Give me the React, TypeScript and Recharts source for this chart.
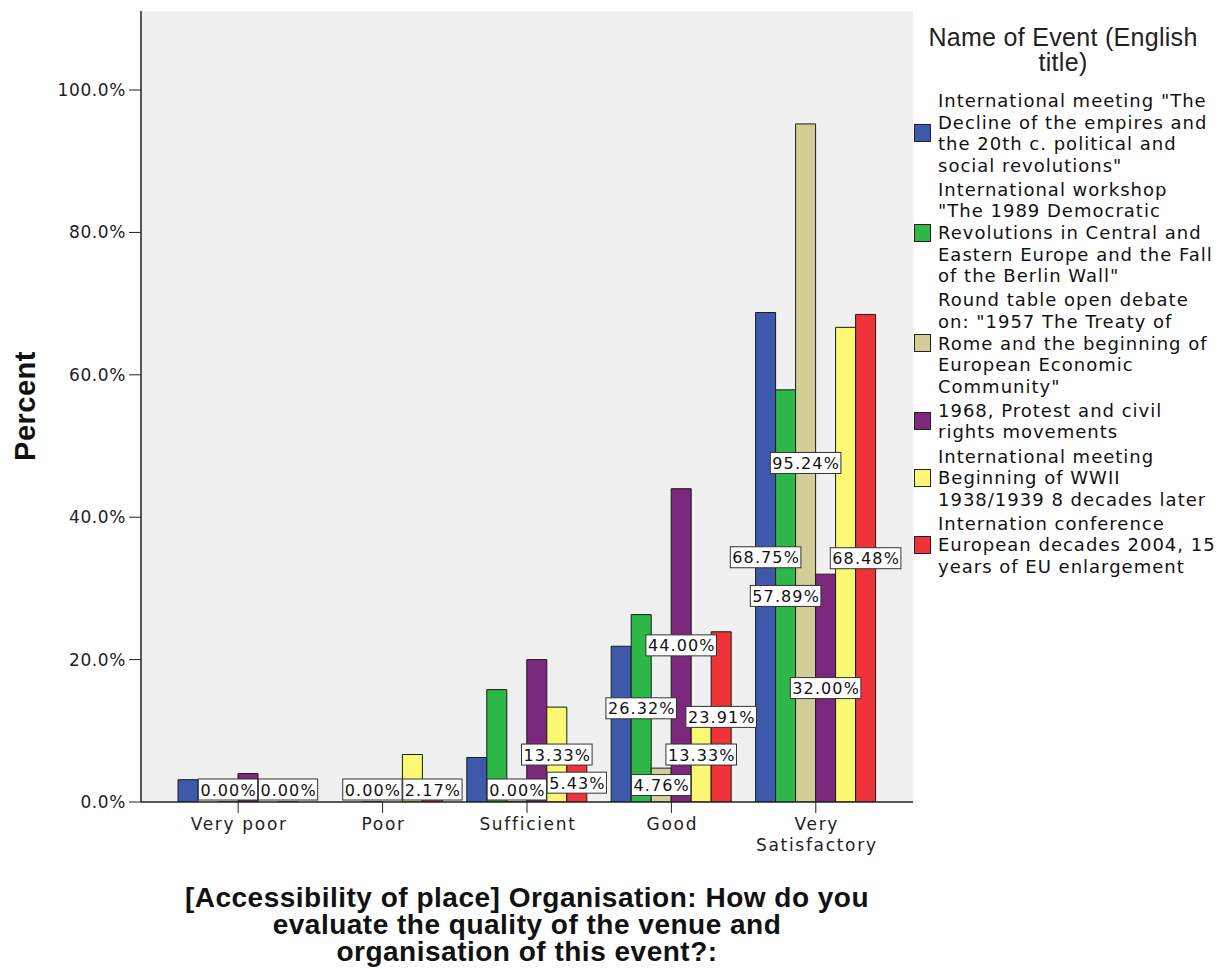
import { BarChart, Bar, XAxis, YAxis, CartesianGrid, LabelList } from 'recharts';

const categories = ['Very poor', 'Poor', 'Sufficient', 'Good', 'Very Satisfactory'];

// percent per rating, one array per event
const declineEmpires = [3.13, 0, 6.25, 21.88, 68.75];
const revolutions1989 = [0, 0, 15.79, 26.32, 57.89];
const treatyOfRome = [0, 0, 0, 4.76, 95.24];
const protest1968 = [4.0, 0, 20.0, 44.0, 32.0];
const beginningWWII = [0, 6.67, 13.33, 13.33, 66.67];
const euEnlargement = [0, 2.17, 5.43, 23.91, 68.48];

// which data labels survive (SPSS hides overlapping ones)
const declineShown = [false, false, false, false, true];
const revolutionsShown = [false, false, false, true, true];
const treatyShown = [true, true, true, true, true];
const protestShown = [false, false, false, true, true];
const wwiiShown = [false, false, true, true, false];
const euShown = [true, true, true, true, true];

const yTicks = [0, 20, 40, 60, 80, 100];

const seriesNames = [
  'International meeting "The\nDecline of the empires and\nthe 20th c. political and\nsocial revolutions"',
  'International workshop\n"The 1989 Democratic\nRevolutions in Central and\nEastern Europe and the Fall\nof the Berlin Wall"',
  'Round table open debate\non: "1957 The Treaty of\nRome and the beginning of\nEuropean Economic\nCommunity"',
  '1968, Protest and civil\nrights movements',
  'International meeting\nBeginning of WWII\n1938/1939 8 decades later',
  'Internation conference\nEuropean decades 2004, 15\nyears of EU enlargement',
];

const COLORS = ['#3e58ac', '#2eb848', '#d3ce97', '#7c287d', '#fbf873', '#ef3338'];

const series = [
  { key: 's0', values: declineEmpires, shown: declineShown },
  { key: 's1', values: revolutions1989, shown: revolutionsShown },
  { key: 's2', values: treatyOfRome, shown: treatyShown },
  { key: 's3', values: protest1968, shown: protestShown },
  { key: 's4', values: beginningWWII, shown: wwiiShown },
  { key: 's5', values: euEnlargement, shown: euShown },
];

const data = categories.map((name, i) => {
  const row: Record<string, any> = { name };
  series.forEach((s) => {
    row[s.key] = s.values[i];
    row[s.key + '_lbl'] = s.shown[i] ? s.values[i].toFixed(2) + '%' : null;
  });
  return row;
});

const FONT = '"DejaVu Sans", Verdana, sans-serif';
const LABEL_SIZE = 16;
const LABEL_SPACING = 1.1;

// rough DejaVu Sans advance widths
function textWidth(s: string, size: number, spacing: number) {
  let w = 0;
  for (const ch of s) {
    if (ch === '.') w += 0.318;
    else if (ch === '%') w += 0.95;
    else w += 0.636;
  }
  return w * size + spacing * s.length;
}

function BoxLabel(props: any) {
  const { x, y, width, height, value } = props;
  if (!value) return null;
  const txt = String(value);
  const w = textWidth(txt, LABEL_SIZE, LABEL_SPACING) + 3;
  const h = 21;
  const cx = x + width / 2;
  const base = y + height;
  const cy = Math.min(y + height / 2, base - h / 2 - 2);
  return (
    <g>
      <rect x={cx - w / 2} y={cy - h / 2} width={w} height={h} fill="#fff" stroke="#333" strokeWidth={1} />
      <text
        x={cx + LABEL_SPACING / 2}
        y={cy + 6}
        textAnchor="middle"
        fontFamily={FONT}
        fontSize={LABEL_SIZE}
        letterSpacing={LABEL_SPACING}
        fill="#111"
      >
        {txt}
      </text>
    </g>
  );
}

function CategoryTick({ x, y, payload }: any) {
  const label: string = payload.value;
  const lines = label.length > 12 ? label.split(' ') : [label];
  return (
    <text x={x} y={y} textAnchor="middle" fontFamily={FONT} fontSize={17} letterSpacing={1.7} fill="#222">
      {lines.map((l, i) => (
        <tspan key={i} x={x + 1} dy={i === 0 ? 17 : 21}>
          {l}
        </tspan>
      ))}
    </text>
  );
}

function PercentTick({ x, y, payload }: any) {
  return (
    <text x={x} y={y + 6} textAnchor="end" fontFamily={FONT} fontSize={17} letterSpacing={0.6} fill="#222">
      {payload.value.toFixed(1) + '%'}
    </text>
  );
}

export default function App() {
  return (
    <div style={{ position: 'absolute', left: 0, top: 0, width: 1222, height: 969, background: '#fff' }}>
      <BarChart
        width={1222}
        height={969}
        data={data}
        margin={{ top: 11, right: 309, bottom: 107, left: 81 }}
        barCategoryGap={12}
        barGap={0}
      >
        <CartesianGrid horizontal={false} vertical={false} fill="#f0f0f0" />
        <XAxis
          dataKey="name"
          height={60}
          padding={{ left: 25, right: 25 }}
          tickSize={11}
          tickMargin={0}
          tickLine={{ stroke: '#222' }}
          axisLine={{ stroke: '#222', strokeWidth: 1.5 }}
          tick={<CategoryTick />}
          interval={0}
        />
        <XAxis
          xAxisId="top"
          dataKey="name"
          orientation="top"
          height={0}
          tick={false}
          tickLine={false}
          axisLine={{ stroke: '#777', strokeWidth: 1.5 }}
        />
        <YAxis
          width={60}
          domain={[0, 111.1]}
          ticks={yTicks}
          allowDataOverflow
          tickSize={12}
          tickMargin={3}
          tickLine={{ stroke: '#222' }}
          axisLine={{ stroke: '#222', strokeWidth: 1.5 }}
          tick={<PercentTick />}
        />
        <YAxis
          yAxisId="right"
          orientation="right"
          width={0}
          domain={[0, 111.1]}
          tick={false}
          tickLine={false}
          axisLine={{ stroke: '#555', strokeWidth: 1.5 }}
        />
        {series.map((s, i) => (
          <Bar
            key={s.key}
            dataKey={s.key}
            fill={COLORS[i]}
            stroke="#1a1a1a"
            strokeWidth={1}
            minPointSize={(value: number, index: number) => (value === 0 && s.shown[index] ? 0.01 : 0)}
            isAnimationActive={false}
          >
            <LabelList dataKey={s.key + '_lbl'} content={<BoxLabel />} />
          </Bar>
        ))}
      </BarChart>

      {/* y axis title */}
      <div
        style={{
          position: 'absolute',
          left: 25,
          top: 406,
          transform: 'translate(-50%, -50%) rotate(-90deg)',
          fontFamily: '"Liberation Sans", Arial, sans-serif',
          fontWeight: 'bold',
          fontSize: 29,
          letterSpacing: 0.5,
          color: '#111',
          whiteSpace: 'nowrap',
        }}
      >
        Percent
      </div>

      {/* x axis title */}
      <div
        style={{
          position: 'absolute',
          left: 141,
          width: 772,
          top: 884,
          textAlign: 'center',
          fontFamily: '"Liberation Sans", Arial, sans-serif',
          fontWeight: 'bold',
          fontSize: 28,
          letterSpacing: 0.5,
          lineHeight: '27px',
          color: '#111',
        }}
      >
        [Accessibility of place] Organisation: How do you
        <br />
        evaluate the quality of the venue and
        <br />
        organisation of this event?:
      </div>

      {/* legend */}
      <div
        style={{
          position: 'absolute',
          left: 913,
          width: 300,
          top: 25,
          textAlign: 'center',
          fontFamily: '"Liberation Sans", Arial, sans-serif',
          fontSize: 25,
          letterSpacing: 0.3,
          lineHeight: '25px',
          color: '#222',
        }}
      >
        Name of Event (English
        <br />
        title)
      </div>
      <div style={{ position: 'absolute', left: 914, top: 90, width: 308 }}>
        {seriesNames.map((n, i) => (
          <div key={i} style={{ display: 'flex', alignItems: 'center', marginBottom: 2.5 }}>
            <div
              style={{
                width: 15,
                height: 16,
                background: COLORS[i],
                border: '1px solid #222',
                flex: 'none',
              }}
            />
            <div
              style={{
                marginLeft: 7,
                whiteSpace: 'pre-line',
                fontFamily: FONT,
                fontSize: 18,
                lineHeight: '21.6px',
                letterSpacing: 1,
                color: '#111',
              }}
            >
              {n}
            </div>
          </div>
        ))}
      </div>
    </div>
  );
}
